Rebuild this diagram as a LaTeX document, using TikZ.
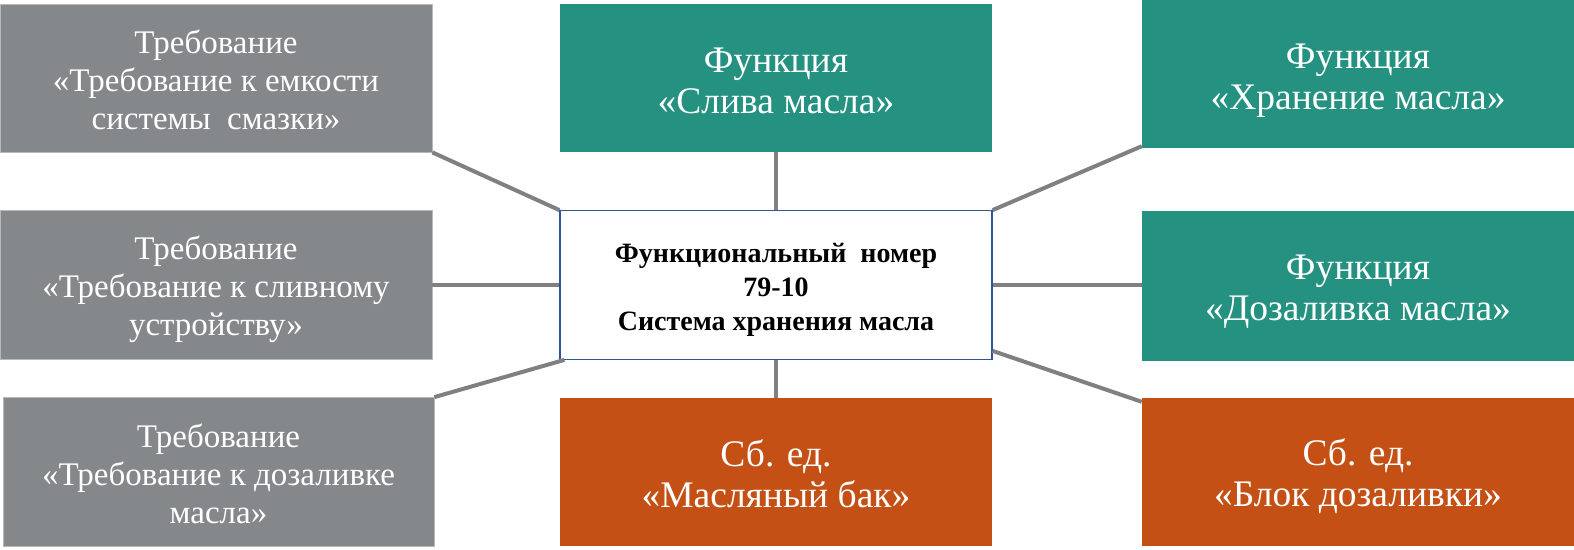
\documentclass[tikz,border=0pt]{standalone}
\usepackage{fontspec}
\setmainfont{Liberation Serif}
\definecolor{boxgray}{HTML}{85888A}
\definecolor{boxteal}{HTML}{259180}
\definecolor{boxorange}{HTML}{C55015}
\definecolor{centerblue}{HTML}{2F5597}
\definecolor{linkgray}{HTML}{808080}
\newcommand{\bxlines}[2]{\raisebox{#1}[0pt][0pt]{\begin{tabular}[t]{@{}c@{}}#2\end{tabular}}}
\begin{document}
\begin{tikzpicture}[x=1pt,y=-1pt,
  basebox/.style={rectangle, inner sep=0pt, minimum width=432pt, minimum height=148pt,
    text=white},
  reqbox/.style={basebox, fill=boxgray, draw=boxgray!60!white, line width=0.8pt,
    font=\fontsize{33}{38}\selectfont},
  funcbox/.style={basebox, fill=boxteal, font=\fontsize{37.5}{41.5}\selectfont},
  unitbox/.style={basebox, fill=boxorange, font=\fontsize{37.5}{41}\selectfont},
  mainbox/.style={basebox, fill=white, draw=centerblue, line width=1.2pt, text=black,
    font=\fontsize{28}{34}\selectfont\bfseries},
  link/.style={draw=linkgray, line width=4pt}]
\useasboundingbox (0,0) rectangle (1574,549);

\node[reqbox] (g1) at (216,78) {\bxlines{25pt}{Требование\\«Требование к емкости\\системы\ \ смазки»}};
\node[reqbox, minimum height=149pt] (g2) at (216,284.5) {\bxlines{25pt}{Требование\\«Требование к сливному\\устройству»}};
\node[reqbox, minimum width=431pt, minimum height=149pt] (g3) at (218.5,472) {\bxlines{25pt}{Требование\\«Требование к дозаливке\\масла»}};

\node[funcbox] (t1) at (776,78) {\bxlines{6pt}{Функция\\«Слива масла»}};
\node[mainbox, minimum height=148.6pt] (c) at (776,285) {\bxlines{23pt}{Функциональный\ \ номер\\79-10\\Система хранения масла}};
\node[unitbox] (o1) at (776,472) {\bxlines{6pt}{Сб. ед.\\«Масляный бак»}};

\node[funcbox] (t2) at (1358,74) {\bxlines{6pt}{Функция\\«Хранение масла»}};
\node[funcbox, minimum height=150pt] (t3) at (1358,285.5) {\bxlines{6.5pt}{Функция\\«Дозаливка масла»}};
\node[unitbox] (o2) at (1358,472) {\bxlines{7pt}{Сб. ед.\\«Блок дозаливки»}};

\draw[link] (g1.south east) -- (c.north west);
\draw[link] (g2.east |- c.west) -- (c.west);
\draw[link] (g3.north east) -- ([xshift=5pt]c.south west);
\draw[link] (t1.south) -- (c.north);
\draw[link] (c.south) -- (o1.north);
\draw[link] (c.north east) -- ([yshift=2pt]t2.south west);
\draw[link] (c.east) -- (t3.west |- c.east);
\draw[link] ([yshift=9pt]c.south east) -- ([yshift=-4pt]o2.north west);
\end{tikzpicture}
\end{document}
